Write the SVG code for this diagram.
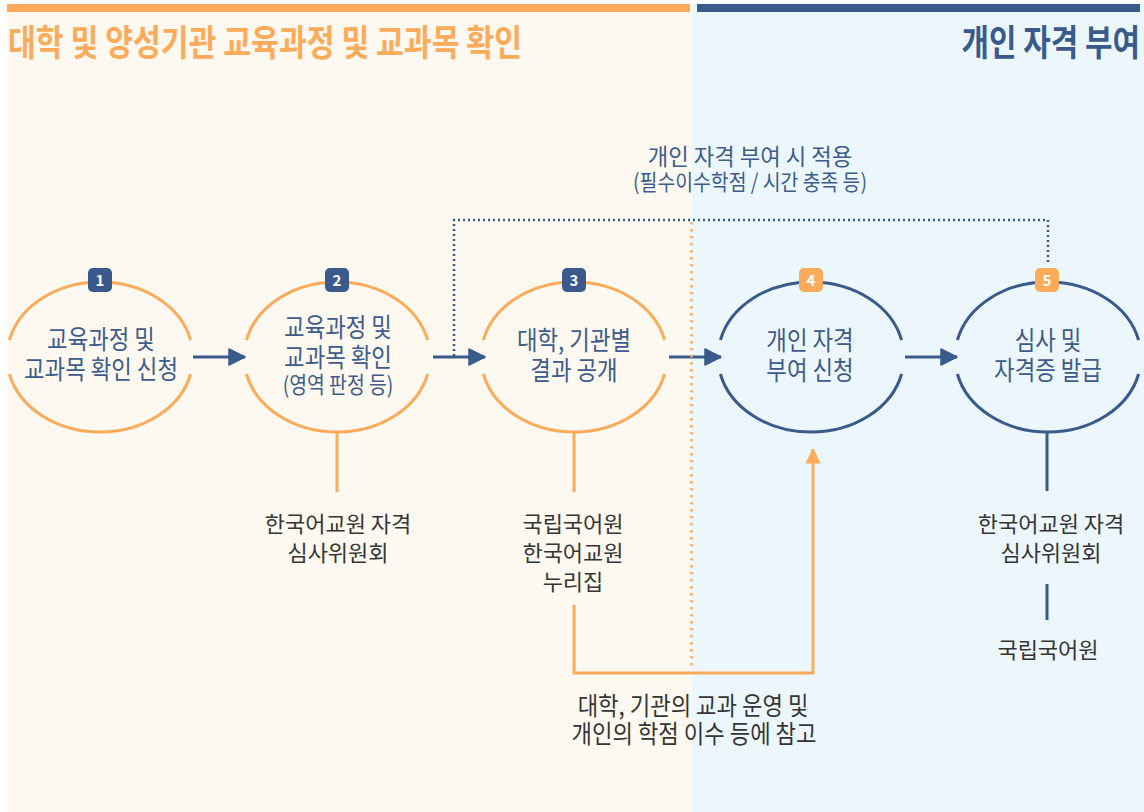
<svg xmlns="http://www.w3.org/2000/svg" width="1144" height="812" viewBox="0 0 1144 812">
<defs>
<style>
.t{font-family:"Noto Sans CJK KR","Noto Sans",sans-serif}
.title{font-size:36px;font-weight:700}
.nt{font-size:26px;fill:#3d5b8b}
.gl{font-size:22px;fill:#353535}
.bn{font-size:15px;font-weight:700;fill:#fff}
.eo{fill:none;stroke:#fbab5a;stroke-width:3}
.en{fill:none;stroke:#3a5a8c;stroke-width:3}
.na{stroke:#3a5a8c;stroke-width:3;fill:none}
.oa{stroke:#fbab5a;stroke-width:3;fill:none}
</style>
<marker id="ahn" markerUnits="userSpaceOnUse" markerWidth="20" markerHeight="20" refX="17" refY="9" orient="auto">
<path d="M1,1 L17,9 L1,17 Z" fill="#3a5a8c" stroke="#3a5a8c" stroke-width="1.5" stroke-linejoin="round"/>
</marker>
<marker id="aho" markerUnits="userSpaceOnUse" markerWidth="18" markerHeight="18" refX="15" refY="8" orient="auto">
<path d="M1,1 L15,8 L1,15 Z" fill="#fbab5a" stroke="#fbab5a" stroke-width="1" stroke-linejoin="round"/>
</marker>
</defs>

<!-- panels -->
<g id="panels">
<rect x="7" y="4" width="685" height="808" fill="#fdf8f0"/>
<rect x="692" y="4" width="452" height="808" fill="#ecf7fd"/>
<rect x="7" y="4" width="683" height="8" fill="#fbab5a"/>
<rect x="697" y="4" width="443" height="8" fill="#3a5a8c"/>
<text class="t title" fill="#fbab5a" transform="translate(8,56) scale(0.84,1)">대학 및 양성기관 교육과정 및 교과목 확인</text>
<text class="t title" fill="#3a5a8c" text-anchor="end" transform="translate(1140,56) scale(0.83,1)">개인 자격 부여</text>
</g>

<!-- connectors -->
<g id="connectors">
<line class="na" x1="193" y1="357" x2="245" y2="357" marker-end="url(#ahn)"/>
<line class="na" x1="433" y1="357" x2="485" y2="357" marker-end="url(#ahn)"/>
<line class="na" x1="669" y1="357" x2="721" y2="357" marker-end="url(#ahn)"/>
<line class="na" x1="905" y1="357" x2="957" y2="357" marker-end="url(#ahn)"/>
<path d="M454,356 V220 H1048 V265" fill="none" stroke="#3a5a8c" stroke-width="2.5" stroke-dasharray="2 3"/>
<line x1="691.5" y1="222" x2="691.5" y2="668" stroke="#fbab5a" stroke-width="2.5" stroke-dasharray="2.5 4.5"/>
<line class="oa" x1="337" y1="432" x2="337" y2="492"/>
<line class="oa" x1="574" y1="432" x2="574" y2="492"/>
<path class="oa" d="M574,605 V673 H813 V449" marker-end="url(#aho)"/>
<line class="na" x1="1047" y1="432" x2="1047" y2="491"/>
<line class="na" x1="1047" y1="584" x2="1047" y2="620"/>
<text class="t" fill="#3d5b8b" font-size="23" text-anchor="middle" transform="translate(750,165) scale(0.97,1)">개인 자격 부여 시 적용</text>
<text class="t" fill="#3d5b8b" font-size="22" text-anchor="middle" transform="translate(750,190) scale(0.88,1)">(필수이수학점 / 시간 충족 등)</text>
<text class="t" fill="#353535" font-size="25" text-anchor="middle" transform="translate(693,715) scale(0.89,1)">대학, 기관의 교과 운영 및</text>
<text class="t" fill="#353535" font-size="25" text-anchor="middle" transform="translate(694,743) scale(0.89,1)">개인의 학점 이수 등에 참고</text>
</g>

<!-- node 1 -->
<g id="node1">
<path class="eo" d="M9.4,340 A93,75 0 0 1 190.6,340 M9.4,374 A93,75 0 0 0 190.6,374"/>
<rect x="88" y="268" width="24" height="24" rx="5" fill="#3a5a8c"/>
<text class="t bn" x="100" y="286" text-anchor="middle">1</text>
<text class="t nt" text-anchor="middle" transform="translate(101,349) scale(0.86,1)"><tspan x="0" y="0">교육과정 및</tspan><tspan x="0" y="30">교과목 확인 신청</tspan></text>
</g>

<!-- node 2 -->
<g id="node2">
<path class="eo" d="M246.4,340 A93,75 0 0 1 427.6,340 M246.4,374 A93,75 0 0 0 427.6,374"/>
<rect x="325" y="268" width="24" height="24" rx="5" fill="#3a5a8c"/>
<text class="t bn" x="337" y="286" text-anchor="middle">2</text>
<text class="t nt" text-anchor="middle" transform="translate(338,337) scale(0.86,1)"><tspan x="0" y="0">교육과정 및</tspan><tspan x="0" y="30">교과목 확인</tspan><tspan x="0" y="56" font-size="22.5">(영역 판정 등)</tspan></text>
<text class="t gl" text-anchor="middle" x="338" y="532"><tspan x="338" y="532">한국어교원 자격</tspan><tspan x="338" y="561">심사위원회</tspan></text>
</g>

<!-- node 3 -->
<g id="node3">
<path class="eo" d="M483.4,340 A93,75 0 0 1 664.6,340 M483.4,374 A93,75 0 0 0 664.6,374"/>
<rect x="562" y="268" width="24" height="24" rx="5" fill="#3a5a8c"/>
<text class="t bn" x="574" y="286" text-anchor="middle">3</text>
<text class="t nt" text-anchor="middle" transform="translate(574,350) scale(0.86,1)"><tspan x="0" y="0">대학, 기관별</tspan><tspan x="0" y="30">결과 공개</tspan></text>
<text class="t gl" text-anchor="middle" x="573" y="532"><tspan x="573" y="532">국립국어원</tspan><tspan x="573" y="561">한국어교원</tspan><tspan x="573" y="590">누리집</tspan></text>
</g>

<!-- node 4 -->
<g id="node4">
<path class="en" d="M720.4,340 A93,75 0 0 1 901.6,340 M720.4,374 A93,75 0 0 0 901.6,374"/>
<rect x="799" y="268" width="24" height="24" rx="5" fill="#fbab5a"/>
<text class="t bn" x="811" y="286" text-anchor="middle">4</text>
<text class="t nt" text-anchor="middle" transform="translate(810,350) scale(0.86,1)"><tspan x="0" y="0">개인 자격</tspan><tspan x="0" y="30">부여 신청</tspan></text>
</g>

<!-- node 5 -->
<g id="node5">
<path class="en" d="M957.4,340 A93,75 0 0 1 1138.6,340 M957.4,374 A93,75 0 0 0 1138.6,374"/>
<rect x="1035" y="268" width="24" height="24" rx="5" fill="#fbab5a"/>
<text class="t bn" x="1047" y="286" text-anchor="middle">5</text>
<text class="t nt" text-anchor="middle" transform="translate(1048,350) scale(0.86,1)"><tspan x="0" y="0">심사 및</tspan><tspan x="0" y="30">자격증 발급</tspan></text>
<text class="t gl" text-anchor="middle" x="1051" y="532"><tspan x="1051" y="532">한국어교원 자격</tspan><tspan x="1051" y="561">심사위원회</tspan></text>
<text class="t gl" text-anchor="middle" x="1048" y="658">국립국어원</text>
</g>
</svg>
